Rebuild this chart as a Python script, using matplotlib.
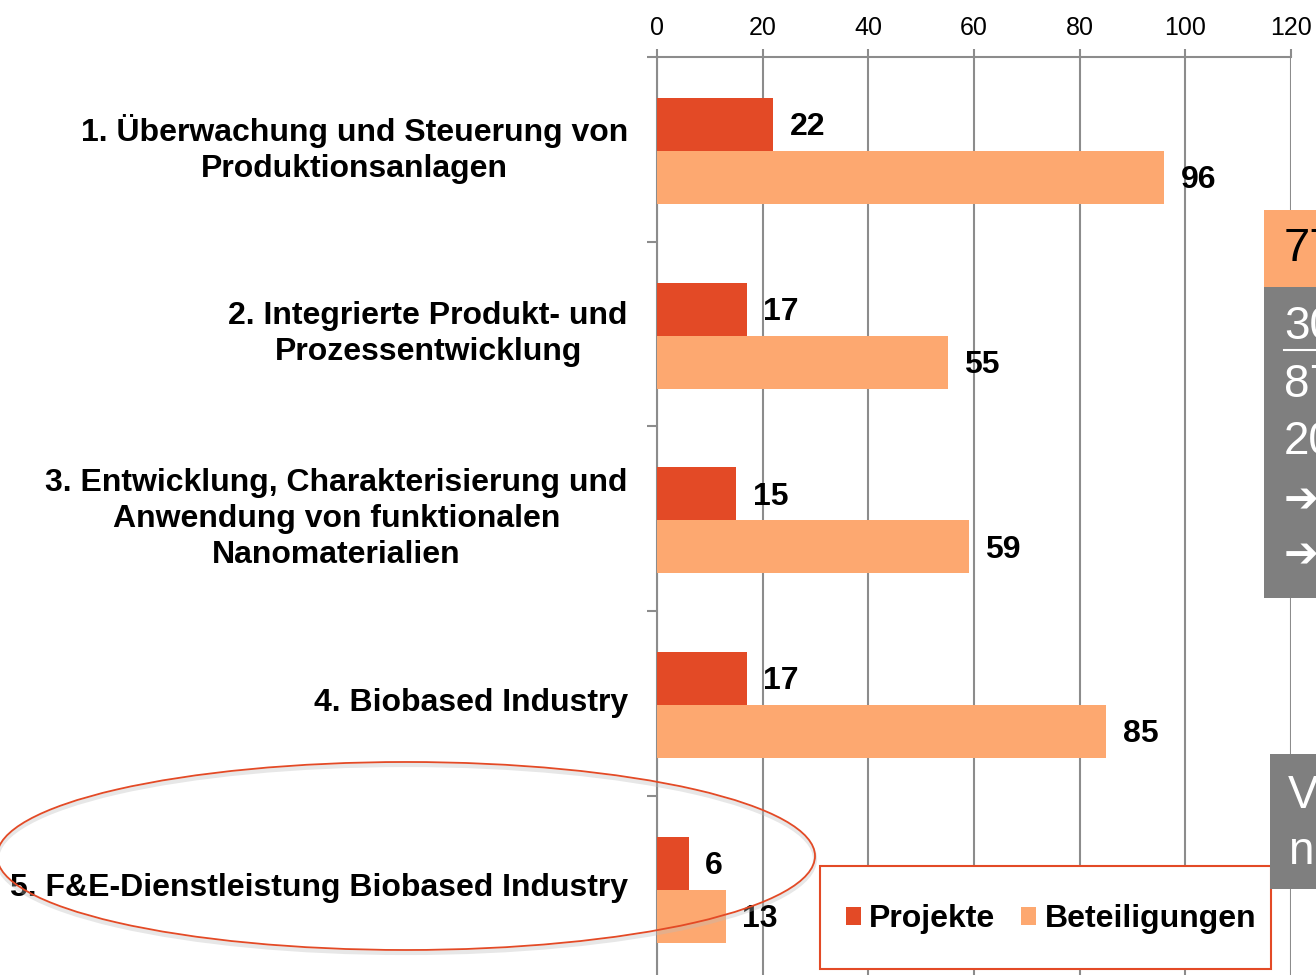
import matplotlib.pyplot as plt
from matplotlib.patches import Ellipse, Rectangle

plt.rcParams['font.family'] = ['Liberation Sans', 'DejaVu Sans']

# data
categories = [
    '1. Überwachung und Steuerung von\nProduktionsanlagen',
    '2. Integrierte Produkt- und\nProzessentwicklung',
    '3. Entwicklung, Charakterisierung und\nAnwendung von funktionalen\nNanomaterialien',
    '4. Biobased Industry',
    '5. F&E-Dienstleistung Biobased Industry',
]
projekte = [22, 17, 15, 17, 6]
beteiligungen = [96, 55, 59, 85, 13]
x_ticks = [0, 20, 40, 60, 80, 100, 120]

col_proj = '#E34A26'
col_bet = '#FDA870'
grey = '#8C8C8C'

fig = plt.figure(figsize=(13.16, 9.75), dpi=100)
# axes spans x=657..1291 px, y=57..980 px (runs slightly off the bottom)
ax = fig.add_axes([657 / 1316, 1 - 980.5 / 975, (1291 - 657) / 1316, (980.5 - 57) / 975])

h = 0.287
off = 0.009  # bars sit a hair below the category centre in the original
pos = list(range(len(categories)))
ax.barh([p - h / 2 + off for p in pos], projekte, height=h, color=col_proj, label='Projekte', zorder=3)
ax.barh([p + h / 2 + off for p in pos], beteiligungen, height=h, color=col_bet, label='Beteiligungen', zorder=3)

# value labels
for p, v in zip(pos, projekte):
    ax.annotate(str(v), (v, p - h / 2 + off), xytext=(12, -2), textcoords='offset points',
                va='center', ha='left', fontsize=23, fontweight='bold')
for p, v in zip(pos, beteiligungen):
    ax.annotate(str(v), (v, p + h / 2 + off), xytext=(12, -2), textcoords='offset points',
                va='center', ha='left', fontsize=23, fontweight='bold')

ax.set_xlim(0, 120)
ax.set_ylim(len(categories) - 0.5, -0.5)

# x axis on top
ax.xaxis.tick_top()
ax.set_xticks(x_ticks)
ax.tick_params(axis='x', direction='out', length=5.5, width=1.5, color=grey,
               labelsize=18, pad=7)
ax.grid(axis='x', color=grey, linewidth=1.5, zorder=0)

# category labels as major ticks (no marks), boundaries as minor ticks
ax.set_yticks(pos)
ax.set_yticklabels(categories, fontsize=23, fontweight='bold', multialignment='center',
                   linespacing=1.27, va='center')
ax.set_yticks([p - 0.5 for p in pos], minor=True)
ax.tick_params(axis='y', which='major', length=0, pad=21)
ax.tick_params(axis='y', which='minor', direction='out', length=7, width=1.5, color=grey)

for side in ['right', 'bottom']:
    ax.spines[side].set_visible(False)
for side in ['top', 'left']:
    ax.spines[side].set_color(grey)
    ax.spines[side].set_linewidth(1.5)

# legend with red box
fig.patches.append(Rectangle((820 / 1316, 1 - 969 / 975), 451 / 1316, 103 / 975,
                             transform=fig.transFigure, facecolor='white',
                             edgecolor=col_proj, linewidth=1.5, zorder=5))
leg = fig.legend(loc='center', bbox_to_anchor=(1051 / 1316, 1 - 919 / 975), ncol=2,
                 frameon=False, prop={'size': 23, 'weight': 'bold'},
                 handlelength=0.48, handleheight=0.48, handletextpad=0.25,
                 columnspacing=0.8)
leg.set_zorder(6)

# highlight ellipse around category 5 (with a faint shadow)
fig.patches.append(Ellipse((406 / 1316, 1 - 859 / 975), 818 / 1316, 188 / 975,
                           transform=fig.transFigure, fill=False, edgecolor='#BBBBBB',
                           linewidth=3, alpha=0.35, zorder=4))
fig.patches.append(Ellipse((406 / 1316, 1 - 856 / 975), 818 / 1316, 188 / 975,
                           transform=fig.transFigure, fill=False, edgecolor=col_proj,
                           linewidth=1.3, zorder=4))

# cut-off overlay boxes on the right edge of the slide
fig.patches.append(Rectangle((1264 / 1316, 1 - 287 / 975), 60 / 1316, 77 / 975,
                             transform=fig.transFigure, facecolor=col_bet, edgecolor='none', zorder=5))
fig.patches.append(Rectangle((1264 / 1316, 1 - 598 / 975), 60 / 1316, 311 / 975,
                             transform=fig.transFigure, facecolor='#7F7F7F', edgecolor='none', zorder=5))
fig.patches.append(Rectangle((1270 / 1316, 1 - 889 / 975), 60 / 1316, 135 / 975,
                             transform=fig.transFigure, facecolor='#7F7F7F', edgecolor='none', zorder=5))

fig.text(1284 / 1316, 1 - 249 / 975, '77', fontsize=34, color='black', va='center', zorder=6)
fig.text(1284 / 1316, 1 - 327 / 975, '30', fontsize=33, color='white', va='center', zorder=6)
fig.add_artist(plt.Line2D([1284 / 1316, 1.0], [1 - 350 / 975] * 2, transform=fig.transFigure,
                          color='white', linewidth=1.5, zorder=6))
fig.text(1284 / 1316, 1 - 385 / 975, '87', fontsize=33, color='white', va='center', zorder=6)
fig.text(1284 / 1316, 1 - 442 / 975, '20', fontsize=33, color='white', va='center', zorder=6)
fig.text(1284 / 1316, 1 - 500 / 975, '➔', fontsize=30, color='white', va='center',
         fontfamily='DejaVu Sans', fontweight='bold', zorder=6)
fig.text(1284 / 1316, 1 - 555 / 975, '➔', fontsize=30, color='white', va='center',
         fontfamily='DejaVu Sans', fontweight='bold', zorder=6)
fig.text(1288 / 1316, 1 - 796 / 975, 'V', fontsize=33, color='white', va='center', zorder=6)
fig.text(1288 / 1316, 1 - 852 / 975, 'n', fontsize=33, color='white', va='center', zorder=6)

fig.savefig('out.png', dpi=100)
